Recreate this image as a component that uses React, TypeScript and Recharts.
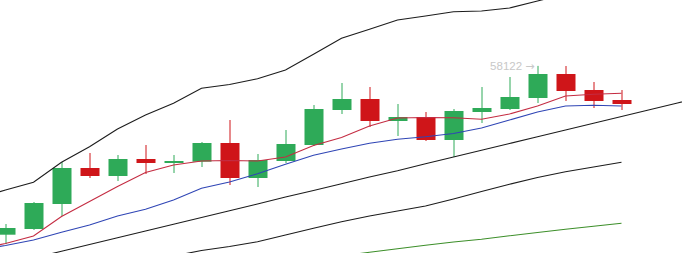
import React from 'react';
import { ComposedChart, Bar, Line, XAxis, YAxis, ReferenceDot } from 'recharts';

// candle index (0..22); lines also carry points just outside the visible window
const indices = [-1, 0, 1, 2, 3, 4, 5, 6, 7, 8, 9, 10, 11, 12, 13, 14, 15, 16, 17, 18, 19, 20, 21, 22, 23, 24, 25];

const opens = [54746, 54860, 55360, 56080, 55920, 56260, 56180, 56206, 56580, 55880, 56220, 56540, 57240, 57460, 57020, 57100, 56640, 57200, 57260, 57480, 57960, 57640, 57440];
const closes = [54880, 55380, 56080, 55920, 56260, 56180, 56220, 56580, 55880, 56240, 56560, 57260, 57460, 57020, 57100, 56640, 57220, 57280, 57500, 57960, 57620, 57420, 57360];
const highs = [54960, 55400, 56200, 56380, 56340, 56540, 56340, 56600, 57040, 56360, 56840, 57340, 57780, 57700, 57360, 57200, 57260, 57700, 57900, 58122, 58120, 57800, 57640];
const lows = [54560, 54840, 55120, 55880, 55820, 55960, 55980, 56100, 55740, 55700, 56180, 56520, 57160, 56900, 56720, 56620, 56300, 56980, 57240, 57380, 57420, 57280, 57240];

// moving averages, index -1..22
const maFast = [54460, 54570, 54720, 55110, 55410, 55710, 55990, 56140, 56220, 56230, 56220, 56300, 56530, 56690, 56920, 57080, 57090, 57085, 57055, 57160, 57320, 57520, 57555, 57575];
const maSlow = [54440, 54530, 54640, 54795, 54940, 55120, 55255, 55440, 55675, 55800, 55965, 56155, 56335, 56460, 56575, 56655, 56705, 56770, 56880, 57040, 57200, 57320, 57335, 57320];
// upper band, index -1..22
const upperBand = [55480, 55640, 55795, 56195, 56505, 56860, 57140, 57375, 57675, 57750, 57865, 58040, 58355, 58675, 58855, 59040, 59120, 59205, 59220, 59280, 59420, 59560, 59640, 59700];
// trend line, index 0..25
const trendLine = [54150, 54280, 54415, 54550, 54685, 54820, 54955, 55090, 55225, 55360, 55500, 55630, 55765, 55900, 56025, 56165, 56300, 56435, 56570, 56705, 56840, 56975, 57110, 57245, 57380, 57515];
// lower line, index 5..22
const lowerLine = [54200, 54320, 54430, 54510, 54605, 54740, 54875, 55005, 55120, 55220, 55320, 55460, 55610, 55755, 55890, 56005, 56100, 56195];
// green line, index 12..22
const greenLine = [54320, 54395, 54465, 54535, 54600, 54655, 54725, 54790, 54855, 54915, 54975];

const peakIndex = 19;
const peakValue = 58122;
const peakText = '58122';
const peakArrow = '→';

const GREEN = '#2eaa58';
const RED = '#cf1519';

const pick = (arr: number[], start: number, i: number) => {
  const k = i - start;
  return k >= 0 && k < arr.length ? arr[k] : null;
};

const data = indices.map((i) => {
  const hasCandle = i >= 0 && i < opens.length;
  return {
    i,
    o: hasCandle ? opens[i] : null,
    c: hasCandle ? closes[i] : null,
    h: hasCandle ? highs[i] : null,
    l: hasCandle ? lows[i] : null,
    range: hasCandle ? [lows[i], highs[i]] : null,
    maFast: pick(maFast, -1, i),
    maSlow: pick(maSlow, -1, i),
    upper: pick(upperBand, -1, i),
    trend: pick(trendLine, 0, i),
    lower: pick(lowerLine, 5, i),
    green: pick(greenLine, 12, i),
  };
});

const Candle = (p: any) => {
  const { x, y, width, height, payload } = p;
  if (!payload || payload.o == null) return null;
  const { o, c, h, l } = payload;
  const top = Math.min(y, y + height);
  const hgt = Math.abs(height);
  const ratio = h - l > 0 ? hgt / (h - l) : 0;
  const bTop = top + (h - Math.max(o, c)) * ratio;
  const bBot = top + (h - Math.min(o, c)) * ratio;
  const color = c >= o ? GREEN : RED;
  const cx = x + width / 2;
  return (
    <g>
      <line x1={cx} x2={cx} y1={top} y2={top + hgt} stroke={color} strokeWidth={1} />
      <rect x={x} y={bTop} width={width} height={Math.max(1, bBot - bTop)} fill={color} />
    </g>
  );
};

const PeakLabel = (props: any) => {
  const vb = props.viewBox || {};
  const cx = (vb.x ?? 0) + (vb.width ?? 0) / 2;
  const cy = (vb.y ?? 0) + (vb.height ?? 0) / 2;
  return (
    <text x={cx - 3} y={cy} textAnchor="end" dominantBaseline="central" fill="#c8c8c8" fontSize={11.5} fontFamily="'Liberation Sans', Arial, sans-serif">
      {peakText + ' '}
      <tspan fontFamily="'DejaVu Sans', sans-serif" fontSize={11}>{peakArrow}</tspan>
    </text>
  );
};

export default function App() {
  return (
    <div style={{ position: 'absolute', left: 0, top: 0, width: 682, height: 253, background: '#fff' }}>
      <ComposedChart width={682} height={253} data={data} margin={{ top: 0, right: 0, bottom: 0, left: 0 }}>
        <XAxis dataKey="i" type="number" domain={[-0.19643, 24.16071]} allowDataOverflow hide />
        <YAxis type="number" domain={[54380, 59440]} allowDataOverflow hide />
        <Bar dataKey="range" barSize={19} shape={Candle} isAnimationActive={false} />
        <Line dataKey="upper" type="linear" stroke="#1c1c1c" strokeWidth={1.1} dot={false} activeDot={false} isAnimationActive={false} />
        <Line dataKey="trend" type="linear" stroke="#1c1c1c" strokeWidth={1.1} dot={false} activeDot={false} isAnimationActive={false} />
        <Line dataKey="lower" type="linear" stroke="#1c1c1c" strokeWidth={1.1} dot={false} activeDot={false} isAnimationActive={false} />
        <Line dataKey="green" type="linear" stroke="#3d8f2a" strokeWidth={1.1} dot={false} activeDot={false} isAnimationActive={false} />
        <Line dataKey="maSlow" type="linear" stroke="#2f45b5" strokeWidth={1.1} dot={false} activeDot={false} isAnimationActive={false} />
        <Line dataKey="maFast" type="linear" stroke="#c42c42" strokeWidth={1.1} dot={false} activeDot={false} isAnimationActive={false} />
        <ReferenceDot x={peakIndex} y={peakValue} r={0} fill="none" stroke="none" label={<PeakLabel />} />
      </ComposedChart>
    </div>
  );
}
